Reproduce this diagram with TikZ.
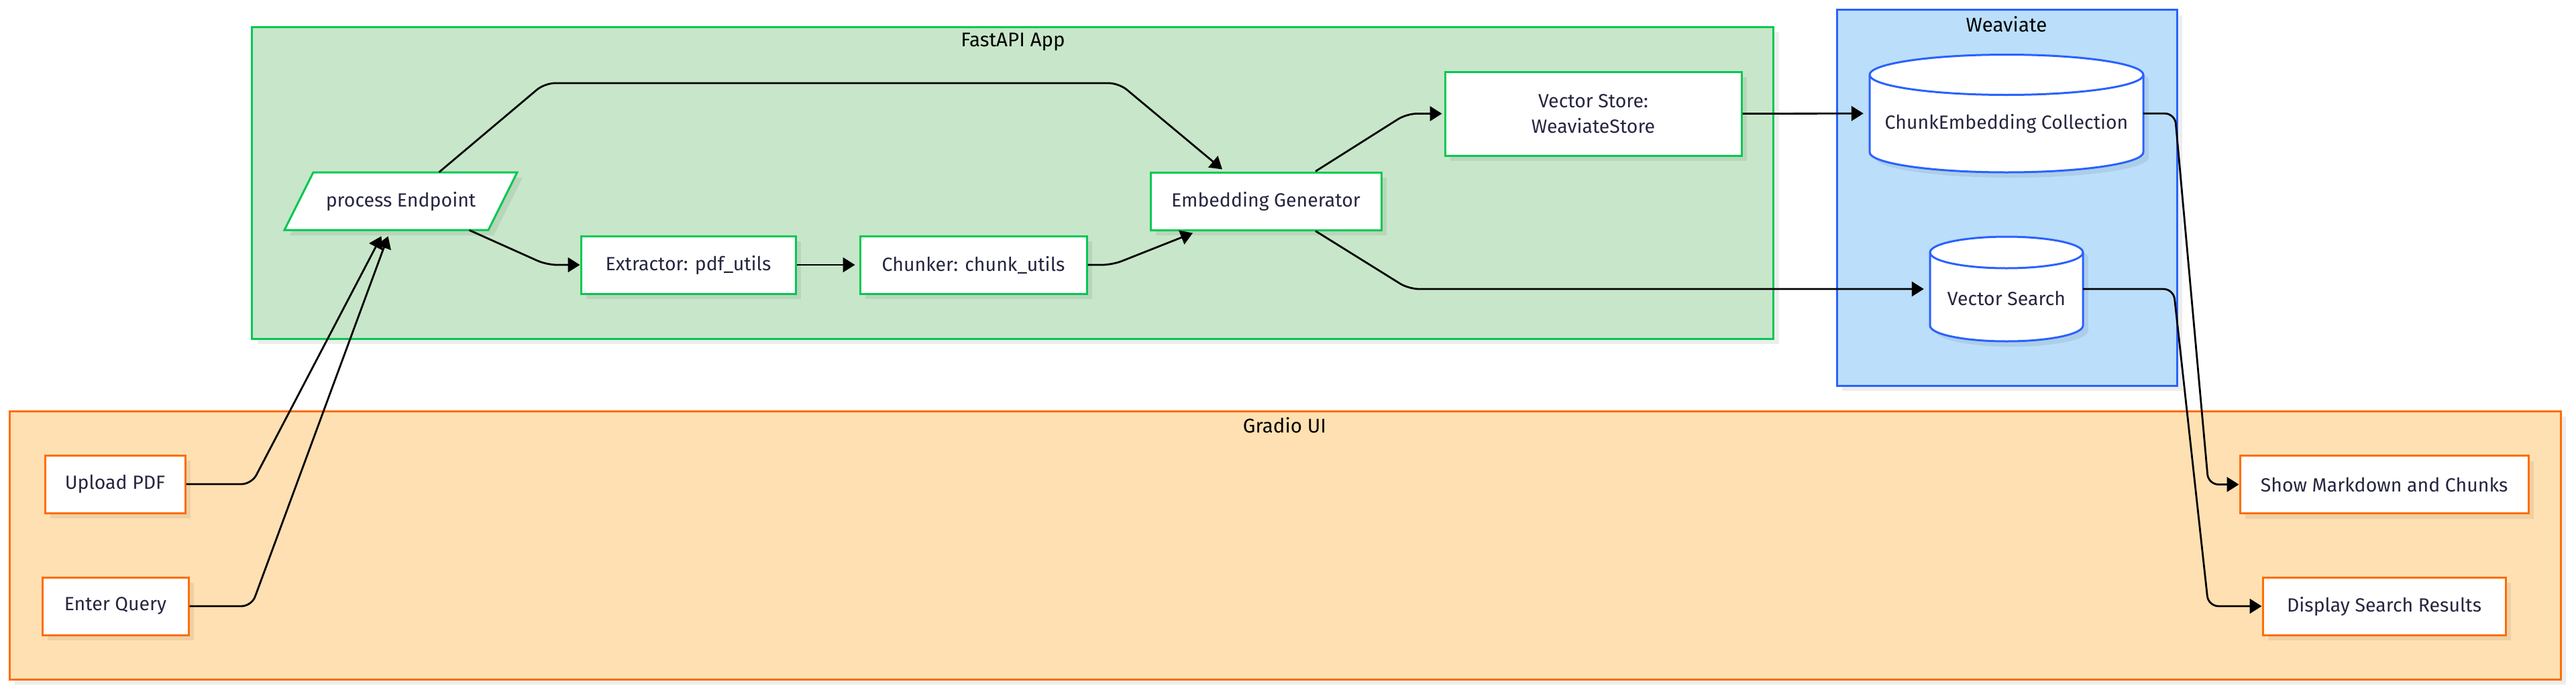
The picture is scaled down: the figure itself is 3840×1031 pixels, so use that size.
\documentclass[tikz,border=0pt]{standalone}
\usepackage{fontspec}
\setmainfont{Fira Sans}
\usetikzlibrary{arrows.meta,shadows,calc}
\definecolor{gfill}{HTML}{C8E6C9}
\definecolor{gline}{HTML}{00C853}
\definecolor{bfill}{HTML}{BBDEFB}
\definecolor{bline}{HTML}{2962FF}
\definecolor{ofill}{HTML}{FFE0B2}
\definecolor{oline}{HTML}{FF6D00}
\definecolor{txt}{HTML}{262640}
\begin{document}
\begin{tikzpicture}[x=1pt,y=-1pt,
  nfont/.style={font=\fontsize{28.5}{34}\selectfont},
  shad/.style={drop shadow={shadow xshift=8pt,shadow yshift=-8pt,fill=black,opacity=0.07}},
  cluster/.style={draw=#1,line width=3pt,inner sep=0pt,shad},
  clabel/.style={font=\fontsize{29.5}{34}\selectfont,text=black,inner sep=0pt},
  box/.style={draw=#1,fill=white,line width=3pt,minimum height=86pt,inner sep=0pt,text=txt,nfont,shad},
  tnode/.style={inner sep=0pt,text=txt,nfont},
  cyl/.style={draw=bline,fill=white,line width=3pt,shad},
  cylline/.style={draw=bline,line width=3pt},
  conn/.style={draw=black,line width=2.8pt,rounded corners=15pt,-{Triangle[length=18pt,width=22pt]}}
]
\useasboundingbox (0,0) rectangle (3840,1031);
% clusters
\node[cluster=gline,fill=gfill,minimum width=2268pt,minimum height=465pt] (fast) at (1509.8,272.5) {};
\node[clabel] (fastlbl) at (1510,62) {FastAPI App};
\node[cluster=bline,fill=bfill,minimum width=507pt,minimum height=560.5pt] (weav) at (2991.5,294.75) {};
\node[clabel] (weavlbl) at (2991,36) {Weaviate};
\node[cluster=oline,fill=ofill,minimum width=3803pt,minimum height=400pt] (grad) at (1915.5,813) {};
\node[clabel] (gradlbl) at (1915,634) {Gradio UI};
% FastAPI nodes
\filldraw[draw=gline,fill=white,line width=3pt,shad] (467,257) -- (771,257) -- (728,343) -- (424,343) -- cycle;
\node[tnode,minimum width=304pt,minimum height=86pt] (proc) at (597.5,300) {process Endpoint};
\node[box=gline,minimum width=320pt] (ext) at (1026,395) {Extractor: pdf\_utils};
\node[box=gline,minimum width=338pt] (chk) at (1451,395) {Chunker: chunk\_utils};
\node[box=gline,minimum width=344pt] (emb) at (1887,300) {Embedding Generator};
\node[box=gline,minimum width=442pt,minimum height=125pt,align=center] (vs) at (2375,169.5) {Vector Store:\\[4pt]WeaviateStore};
% Weaviate cylinders
\filldraw[cyl] (2787,111.5) -- (2787,227) arc[start angle=180,end angle=360,x radius=204pt,y radius=30pt] -- (3195,111.5) arc[start angle=0,end angle=180,x radius=204pt,y radius=30pt] -- cycle;
\draw[cylline] (2787,111.5) arc[start angle=180,end angle=360,x radius=204pt,y radius=30pt];
\node[inner sep=0pt,minimum width=408pt,minimum height=175.5pt,label={[tnode,yshift=-15pt,name=celbl]center:ChunkEmbedding Collection}] (ce) at (2991,169.25) {};
\filldraw[cyl] (2877,376.5) -- (2877,485.5) arc[start angle=180,end angle=360,x radius=114pt,y radius=23.5pt] -- (3105,376.5) arc[start angle=0,end angle=180,x radius=114pt,y radius=23.5pt] -- cycle;
\draw[cylline] (2877,376.5) arc[start angle=180,end angle=360,x radius=114pt,y radius=23.5pt];
\node[inner sep=0pt,minimum width=228pt,minimum height=156pt,label={[tnode,yshift=-14pt,name=vsrlbl]center:Vector Search}] (vsr) at (2991,431) {};
% Gradio nodes
\node[box=oline,minimum width=209pt] (up) at (171.5,722) {Upload PDF};
\node[box=oline,minimum width=218pt] (ent) at (172,904) {Enter Query};
\node[box=oline,minimum width=430pt] (show) at (3554,722.5) {Show Markdown and Chunks};
\node[box=oline,minimum width=362pt] (disp) at (3554,904) {Display Search Results};
% connectors
\draw[conn] ($(proc.north)+(57,0)$) -- (812,124) -- (1668,124) -- ($(emb.north)+(-65,-3)$);
\draw[conn] ($(proc.south)+(102,0)$) -- (815,395) -- (ext.west);
\draw[conn] (ext.east) -- ($(chk.west)+(-6,0)$);
\draw[conn] (chk.east) -- (1658,395) -- ($(emb.south)+(-109,3)$);
\draw[conn] ($(emb.north)+(74,0)$) -- (2097,169.5) -- ($(vs.west)+(-3,0)$);
\draw[conn] ($(emb.south)+(74,0)$) -- (2100,431) -- ($(vsr.west)+(-9,0)$);
\draw[conn] (vs.east) -- ($(ce.west)+(-9,0)$);
\draw[conn] (ce.east) -- (3242,169.25) -- (3292,722.5) -- (show.west);
\draw[conn] (vsr.east) -- (3240,431) -- (3292,904) -- (disp.west);
\draw[conn] (up.east) -- (375,722) -- ($(proc.south)+(-29,9)$);
\draw[conn] (ent.east) -- (375,904) -- ($(proc.south)+(-19,9)$);
\end{tikzpicture}
\end{document}
